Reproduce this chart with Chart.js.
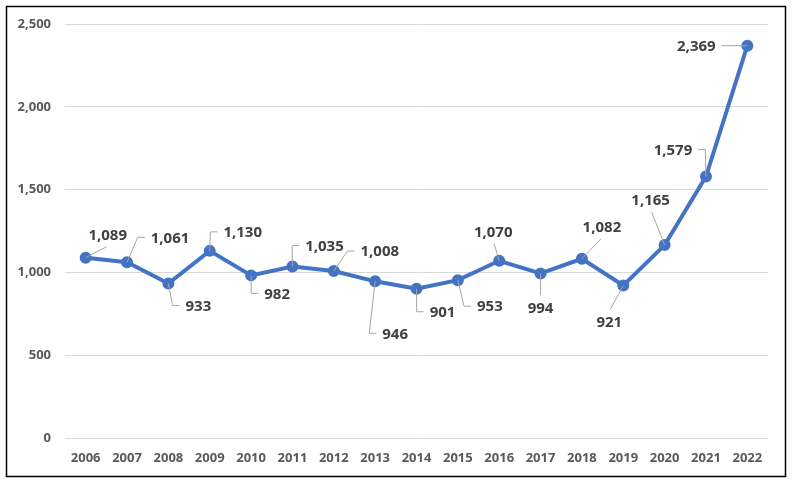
<!DOCTYPE html>
<html>
<head>
<meta charset="utf-8">
<script src="https://cdn.jsdelivr.net/npm/chart.js@4.4.0/dist/chart.umd.min.js"></script>
<style>
    html, body { margin: 0; padding: 0; background: #fff; }
    #wrap { width: 795px; height: 485px; }
</style>
</head>
<body>
<div id="wrap"><canvas id="chart" width="795" height="485"></canvas></div>
<script>
// data
const years = ['2006', '2007', '2008', '2009', '2010', '2011', '2012', '2013', '2014',
    '2015', '2016', '2017', '2018', '2019', '2020', '2021', '2022'];
const counts = [1089, 1061, 933, 1130, 982, 1035, 1008, 946, 901,
    953, 1070, 994, 1082, 921, 1165, 1579, 2369];
const yTicks = [0, 500, 1000, 1500, 2000, 2500];

// where each value label sits relative to its point (px)
const labelOffsets = [
    [22, -23], [43, -25], [30, 22], [33, -19], [26, 18], [32, -21], [46, -20], [20, 52], [26, 23],
    [32, 26], [-6, -29], [0, 34], [20, -32], [-14, 36], [-14, -45], [-33, -27], [-51, 0]
];

const fmt = v => v.toLocaleString('en-US');

const frame = {
    id: 'frame',
    beforeDraw(chart) {
        const { ctx } = chart;
        ctx.save();
        ctx.fillStyle = '#fff';
        ctx.fillRect(0, 0, chart.width, chart.height);
        ctx.strokeStyle = '#000';
        ctx.lineWidth = 1.5;
        ctx.strokeRect(6.5, 6.5, 779, 470);
        ctx.restore();
    }
};

const valueLabels = {
    id: 'valueLabels',
    afterDatasetsDraw(chart) {
        const { ctx } = chart;
        const meta = chart.getDatasetMeta(0);
        ctx.save();
        ctx.font = 'bold 15px "Noto Sans"';
        ctx.textAlign = 'center';
        ctx.textBaseline = 'middle';
        meta.data.forEach((pt, i) => {
            const [dx, dy] = labelOffsets[i];
            const cx = pt.x + dx, cy = pt.y + dy;
            const text = fmt(counts[i]);
            const half = ctx.measureText(text).width / 2;

            ctx.strokeStyle = '#a6a6a6';
            ctx.lineWidth = 1;
            ctx.beginPath();
            ctx.moveTo(pt.x, pt.y);
            if (Math.abs(dx) > half + 4) {
                const s = Math.sign(dx);
                const edge = cx - s * (half + 6);
                if (Math.abs(dy) < 4) {
                    ctx.lineTo(edge, cy);
                } else {
                    ctx.lineTo(edge - s * 7, cy);
                    ctx.lineTo(edge, cy);
                }
            } else {
                ctx.lineTo(cx - Math.sign(dx), cy - Math.sign(dy) * 12);
            }
            ctx.stroke();

            ctx.fillStyle = '#404040';
            ctx.fillText(text, cx, cy + 1);
        });
        ctx.restore();
    }
};

new Chart(document.getElementById('chart'), {
    type: 'line',
    data: {
        labels: years,
        datasets: [{
            data: counts,
            borderColor: '#4472C4',
            backgroundColor: '#4472C4',
            borderWidth: 4,
            pointRadius: 4,
            pointHoverRadius: 4,
            tension: 0
        }]
    },
    options: {
        responsive: false,
        animation: false,
        events: [],
        layout: { padding: { top: 24, right: 27, left: 0, bottom: 0 } },
        plugins: {
            legend: { display: false },
            tooltip: { enabled: false }
        },
        scales: {
            x: {
                offset: true,
                grid: { display: false, drawTicks: false },
                border: { display: false },
                ticks: {
                    padding: 12,
                    color: '#595959',
                    font: { family: '"Noto Sans"', size: 13, weight: 'bold' },
                    maxRotation: 0
                },
                afterFit: s => { s.height = 47; }
            },
            y: {
                min: yTicks[0],
                max: yTicks[yTicks.length - 1],
                afterBuildTicks: s => { s.ticks = yTicks.map(v => ({ value: v })); },
                grid: { color: '#d9d9d9', lineWidth: 1, drawTicks: false },
                border: { display: false },
                ticks: {
                    padding: 14,
                    color: '#595959',
                    font: { family: '"Noto Sans"', size: 13, weight: 'bold' },
                    callback: v => fmt(v)
                },
                afterFit: s => { s.width = 65; }
            }
        }
    },
    plugins: [frame, valueLabels]
});
</script>
</body>
</html>
